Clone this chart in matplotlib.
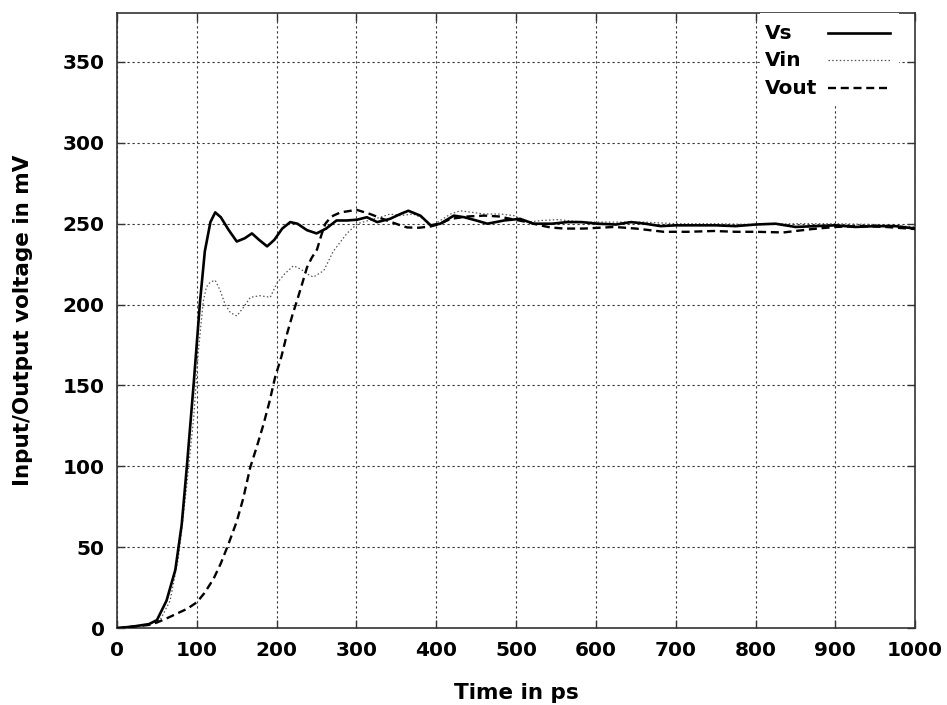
import matplotlib
matplotlib.use("Agg")
import matplotlib.pyplot as plt
from matplotlib.patches import Rectangle
from matplotlib.lines import Line2D

plt.rcParams['font.family'] = ['DejaVu Sans']

# ---- data ----
t_vs = [0, 20, 40, 50, 62, 73, 81, 87.5, 96, 104, 110, 117, 123, 130, 140, 150, 160, 169, 178, 188,
        197, 207, 217, 226, 238, 250, 262, 275, 288, 301, 313, 326, 342, 355, 365, 380, 393, 405,
        422, 435, 450, 464, 485, 505, 522, 545, 564, 582, 602, 625, 644, 662, 681, 700, 725, 750,
        775, 800, 825, 850, 875, 900, 925, 950, 975, 1000]
v_vs = [0, 1, 2.5, 5, 17, 36, 64, 100, 151, 202, 233, 251, 257, 254, 246, 239, 241, 244, 240, 236,
        240, 247, 251, 250, 246, 244, 247, 252, 252, 252.5, 254, 251, 253, 256, 258, 255, 249, 250,
        255, 254, 252, 250, 252, 253, 250, 250, 251, 251, 250, 249.5, 251, 250, 248.5, 249, 249, 249,
        248.5, 249.5, 250, 248, 248.5, 249, 248, 248.5, 248.5, 247]

t_vin = [0, 20, 40, 54, 66.5, 77, 87.5, 96, 102, 108, 112, 117, 123, 129, 135.5, 142, 150, 158, 167,
         179, 192, 200, 210, 221, 230, 238, 246, 259, 271, 288, 301, 315, 330, 342, 355, 371, 385,
         393, 405, 418, 430, 445, 460, 480, 497, 514, 532, 552, 585, 620, 660, 700, 750, 800, 850,
         900, 950, 1000]
v_vin = [0, 1, 2.5, 5, 17, 44, 89, 130, 172, 202, 211, 214, 215, 209, 200, 195, 193, 198, 204.5,
         205.5, 204.5, 213, 219, 224, 222, 219, 217, 221, 233, 244, 250, 252, 254, 256, 255, 256, 253,
         248, 252, 256, 258, 257, 256, 256, 255, 251, 252, 252.5, 251, 251, 251, 250, 250, 249.5, 250,
         250, 249.5, 248]

t_vout = [0, 20, 40, 50, 62, 75, 88, 100, 110, 121, 130, 139.6, 150, 158, 167, 175, 183.5, 191, 198,
          206, 213, 220, 225.5, 232, 238, 244, 250.5, 256, 261, 266, 271, 280, 288, 300, 317, 338,
          355, 363.5, 378, 393, 405, 418, 440, 460, 478, 493, 514, 530, 543, 560, 585, 623, 650,
          685, 715, 748, 775, 800, 835, 871, 900, 930, 963, 1000]
v_vout = [0, 1, 2, 3.5, 6, 9, 12, 16, 22, 30.6, 40, 52, 66, 80, 99.6, 112, 126, 140, 155,
          168, 182, 194, 202.5, 213, 223, 229, 234, 243, 250, 253, 255, 257, 257.6, 258.6, 256, 252,
          249, 247.7, 247.5, 248.3, 250, 253, 254.5, 255, 254.5, 253, 251, 249, 247.7, 247, 247, 248,
          247, 245, 245, 245.5, 245, 245, 244.6, 246.7, 248, 248.5, 248, 246.7]

series_labels = ["Vs", "Vin", "Vout"]
x_ticks = [0, 100, 200, 300, 400, 500, 600, 700, 800, 900, 1000]
y_ticks = [0, 50, 100, 150, 200, 250, 300, 350]

# ---- figure ----
fig = plt.figure(figsize=(9.47, 7.05), dpi=100)
ax = fig.add_axes([0.1236, 0.109, 0.8428, 0.872])

styles = [
    dict(color="black", lw=1.9, ls="-"),
    dict(color="#555555", lw=0.9, ls=(0, (1.2, 1.8))),
    dict(color="black", lw=1.7, ls=(0, (3.4, 2.0))),
]

ax.plot(t_vs, v_vs, **styles[0], zorder=4)
ax.plot(t_vin, v_vin, **styles[1], zorder=3.5)
ax.plot(t_vout, v_vout, **styles[2], zorder=3.8)

ax.set_xlim(0, 1000)
ax.set_ylim(0, 380)
ax.set_xticks(x_ticks)
ax.set_yticks(y_ticks)

ax.grid(True, color="#333333", lw=0.8, ls=(0, (2, 2.5)))
ax.tick_params(direction="in", length=6, width=1, color="#333333", top=True, right=True,
               labelsize=14.5, pad=9)
for lab in ax.get_xticklabels() + ax.get_yticklabels():
    lab.set_fontweight("bold")
for s in ax.spines.values():
    s.set_color("#333333")
    s.set_linewidth(1.2)

ax.set_xlabel("Time in ps", fontsize=15.5, fontweight="bold", labelpad=17)
ax.set_ylabel("Input/Output voltage in mV", fontsize=15.5, fontweight="bold", labelpad=21)

# legend (gnuplot style: label on left, sample on right)
ax.add_patch(Rectangle((0.805, 0.85), 0.175, 0.15, transform=ax.transAxes,
                       facecolor="white", edgecolor="none", zorder=3))
rows_y = [0.968, 0.924, 0.878]
for lbl, st, yy in zip(series_labels, styles, rows_y):
    ax.text(0.812, yy, lbl, transform=ax.transAxes, fontsize=14.5, fontweight="bold",
            va="center", ha="left", zorder=5)
    ax.add_line(Line2D([0.891, 0.969], [yy, yy], transform=ax.transAxes, zorder=5, **st))

fig.savefig("out.png", dpi=100)
